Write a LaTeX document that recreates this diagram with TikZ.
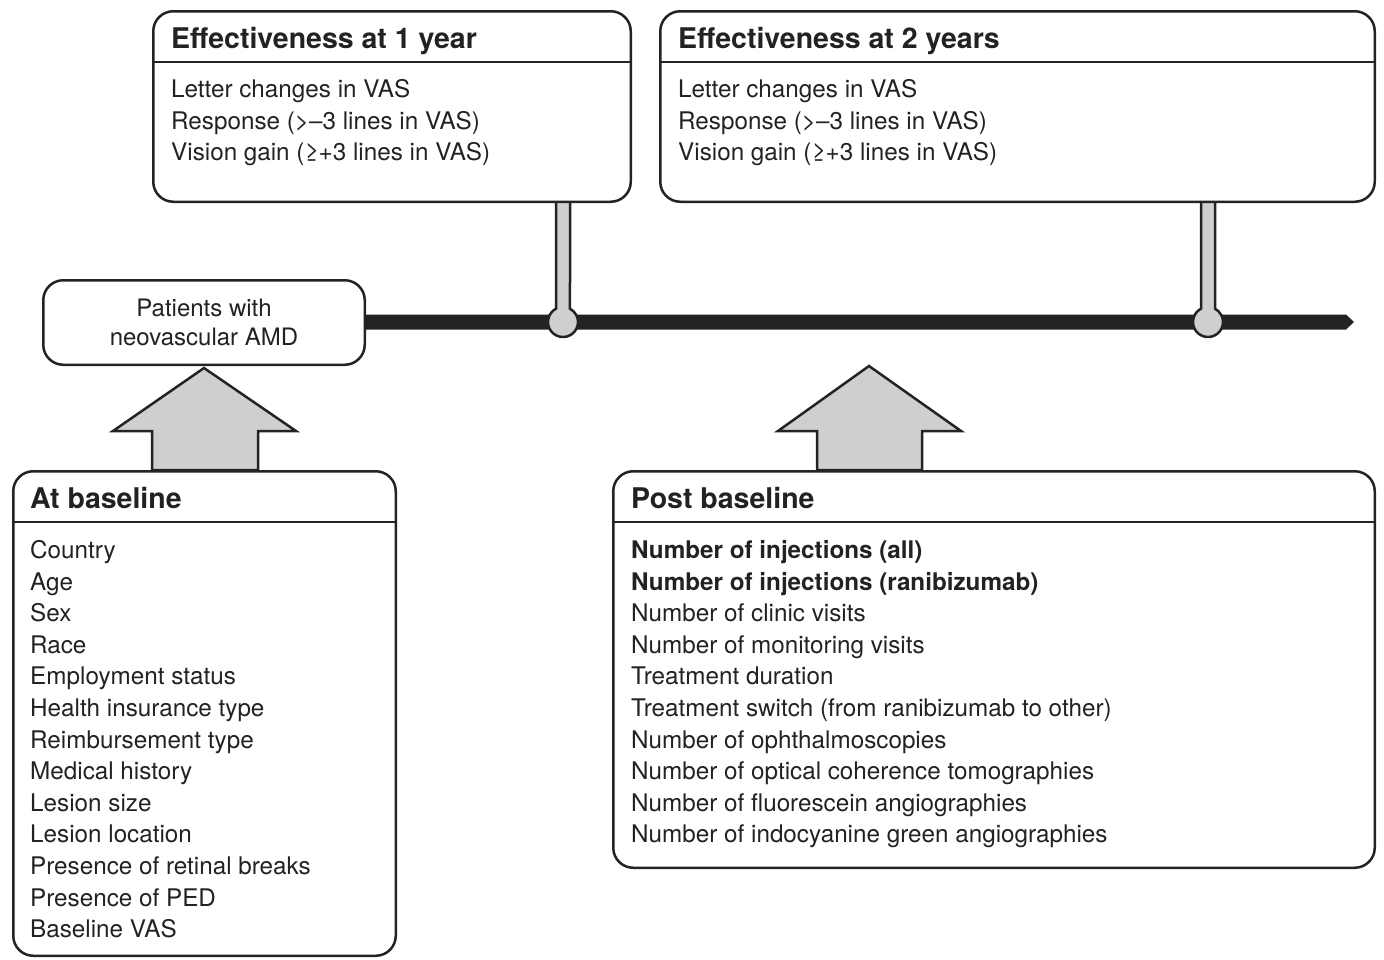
\documentclass[tikz,border=0pt]{standalone}
\usepackage{fontspec}
\setmainfont{TeX Gyre Heros}
\definecolor{dk}{HTML}{232323}
\definecolor{gy}{HTML}{CFCFCF}
\definecolor{tx}{HTML}{222222}
\begin{document}
\begin{tikzpicture}[x=1pt,y=-1pt,
  box/.style={draw=dk, line width=2.5pt, rounded corners=20pt, fill=white, inner sep=0pt},
  body/.style={anchor=base west, inner sep=0pt, font=\fontsize{24.25}{28}\selectfont, text=tx},
  bbody/.style={body, font=\fontsize{24.25}{28}\selectfont\bfseries},
  head/.style={anchor=base west, inner sep=0pt, font=\fontsize{28.5}{32}\selectfont\bfseries, text=tx},
  blk/.style={fill=gy, draw=dk, line width=2.5pt, line join=miter},
  divider/.style={draw=dk, line width=2.5pt}]
\useasboundingbox (0,0) rectangle (1384,959);
% timeline
\fill[dk] (366,314.5) -- (1346,314.5) -- (1354,322) -- (1346,329.5) -- (366,329.5) -- cycle;
% stems with circles
\draw[blk] (556,203) -- (556,308.73) arc[start angle=242.2, end angle=-62.2, radius=15] -- (570,203);
\draw[blk] (1201,203) -- (1201,308.73) arc[start angle=242.2, end angle=-62.2, radius=15] -- (1215,203);
% effectiveness boxes
\node[box, minimum width=477.5, minimum height=190.5] (e1) at (392,106.5) {};
\draw[divider] (e1.west |- 0,62) -- (e1.east |- 0,62);
\node[head] (e1h) at (171,48) {Effectiveness at 1 year};
\node[box, minimum width=714.5, minimum height=190.5] (e2) at (1017.5,106.5) {};
\draw[divider] (e2.west |- 0,62) -- (e2.east |- 0,62);
\node[head] (e2h) at (678,48) {Effectiveness at 2 years};
\foreach \t [count=\i] in {{Letter changes in VAS},{Response (>–3 lines in VAS)},{Vision gain (≥+3 lines in VAS)}}{
  \node[body] (ea\i) at (171,{97.5+31.6*(\i-1)}) {\t};
  \node[body] (eb\i) at (678,{97.5+31.6*(\i-1)}) {\t};
}
% patients box
\node[box, minimum width=321.5, minimum height=84.5, align=center,
      font=\fontsize{24}{29}\selectfont, text=tx] (pat) at (204,322.5) {Patients with\\neovascular AMD};
% block arrows
\draw[blk] (152,470) -- (152,431) -- (113,431) -- (204,368) -- (296,431) -- (258,431) -- (258,470) -- cycle;
\draw[blk] (817,470) -- (817,431) -- (778,431) -- (869,366) -- (961,431) -- (922,431) -- (922,470) -- cycle;
% at baseline box
\node[box, minimum width=382.5, minimum height=484.5] (base) at (204.5,713.5) {};
\draw[divider] (base.west |- 0,522) -- (base.east |- 0,522);
\node[head] (baseh) at (30,508) {At baseline};
\foreach \t [count=\i] in {Country,Age,Sex,Race,{Employment status},{Health insurance type},{Reimbursement type},{Medical history},{Lesion size},{Lesion location},{Presence of retinal breaks},{Presence of PED},{Baseline VAS}}{
  \node[body] (bl\i) at (30,{558.5+31.6*(\i-1)}) {\t};
}
% post baseline box
\node[box, minimum width=761.5, minimum height=396.5] (post) at (994,669.5) {};
\draw[divider] (post.west |- 0,522) -- (post.east |- 0,522);
\node[head] (posth) at (631,508) {Post baseline};
\node[bbody] (pb1) at (631,558.5) {Number of injections (all)};
\node[bbody] (pb2) at (631,590.1) {Number of injections (ranibizumab)};
\foreach \t [count=\i from 3] in {{Number of clinic visits},{Number of monitoring visits},{Treatment duration},{Treatment switch (from ranibizumab to other)},{Number of ophthalmoscopies},{Number of optical coherence tomographies},{Number of fluorescein angiographies},{Number of indocyanine green angiographies}}{
  \node[body] (pb\i) at (631,{558.5+31.6*(\i-1)}) {\t};
}
\end{tikzpicture}
\end{document}
